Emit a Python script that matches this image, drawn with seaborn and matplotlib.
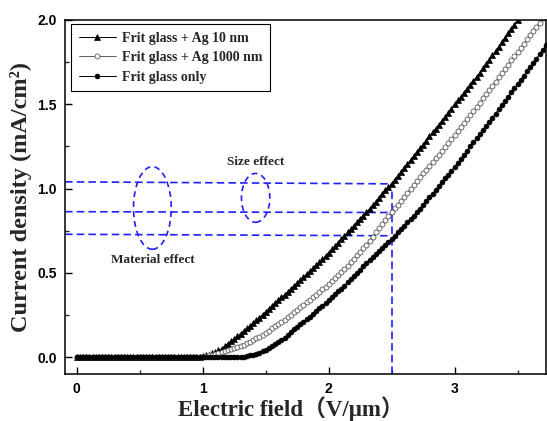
import numpy as np
import matplotlib
matplotlib.use("Agg")
import matplotlib.pyplot as plt
import matplotlib.ticker as mticker
from matplotlib.patches import Ellipse
import seaborn as sns

# ──────────────────────────────────────────────
#  Data (J-E curves, field step 0.025 V/um)
# ──────────────────────────────────────────────

FIELD_STEP = 0.025

ag10_current = [
    0, 0, 0, 0, 0, 0, 0, 0, 0, 0, 0, 0, 0,
    0, 0, 0, 0, 0, 0, 0, 0, 0, 0, 0, 0, 0,
    0, 0, 0, 0, 0, 0, 0, 0, 0, 0, 0, 0, 0,
    0.002, 0.005, 0.01, 0.015, 0.022, 0.03, 0.04, 0.05, 0.065, 0.08,
    0.095, 0.11, 0.125, 0.14, 0.155, 0.17, 0.185, 0.20, 0.218, 0.235,
    0.253, 0.27, 0.288, 0.305, 0.323, 0.34, 0.355, 0.37, 0.388, 0.405,
    0.423, 0.44, 0.458, 0.475, 0.493, 0.51, 0.528, 0.545, 0.563, 0.58,
    0.60, 0.62, 0.64, 0.66, 0.68, 0.70, 0.72, 0.74, 0.76, 0.78,
    0.80, 0.82, 0.84, 0.86, 0.88, 0.90, 0.923, 0.945, 0.968, 0.99,
    1.01, 1.03, 1.053, 1.075, 1.098, 1.12, 1.145, 1.17, 1.193, 1.215,
    1.238, 1.26, 1.285, 1.31, 1.333, 1.355, 1.378, 1.40, 1.425, 1.45,
    1.475, 1.50, 1.523, 1.545, 1.568, 1.59, 1.615, 1.64, 1.663, 1.685,
    1.713, 1.74, 1.765, 1.79, 1.815, 1.84, 1.868, 1.895, 1.92, 1.945,
    1.973, 2.00,
]

ag1000_current = [
    0, 0, 0, 0, 0, 0, 0, 0, 0, 0, 0, 0, 0,
    0, 0, 0, 0, 0, 0, 0, 0, 0, 0, 0, 0, 0,
    0, 0, 0, 0, 0, 0, 0, 0, 0, 0, 0, 0, 0,
    0.001, 0.003, 0.006, 0.01, 0.015, 0.02, 0.025, 0.03, 0.035, 0.04,
    0.046, 0.052, 0.058, 0.065, 0.073, 0.082, 0.091, 0.10, 0.111, 0.122,
    0.133, 0.145, 0.157, 0.17, 0.182, 0.195, 0.208, 0.222, 0.236, 0.25,
    0.265, 0.28, 0.295, 0.31, 0.325, 0.34, 0.355, 0.37, 0.386, 0.402,
    0.418, 0.435, 0.452, 0.47, 0.487, 0.505, 0.524, 0.543, 0.563, 0.583,
    0.604, 0.625, 0.646, 0.668, 0.691, 0.715, 0.74, 0.765, 0.788, 0.812,
    0.836, 0.86, 0.882, 0.905, 0.928, 0.952, 0.975, 0.998, 1.021, 1.045,
    1.067, 1.09, 1.112, 1.135, 1.157, 1.18, 1.202, 1.225, 1.247, 1.27,
    1.294, 1.318, 1.341, 1.365, 1.389, 1.413, 1.436, 1.46, 1.485, 1.51,
    1.535, 1.56, 1.585, 1.61, 1.635, 1.66, 1.685, 1.71, 1.735, 1.76,
    1.785, 1.81, 1.835, 1.86, 1.885, 1.91, 1.935, 1.96, 1.985, 2.01,
]

frit_current = [
    0, 0, 0, 0, 0, 0, 0, 0, 0, 0, 0, 0, 0,
    0, 0, 0, 0, 0, 0, 0, 0, 0, 0, 0, 0, 0,
    0, 0, 0, 0, 0, 0, 0, 0, 0, 0, 0, 0, 0,
    0, 0, 0, 0, 0, 0, 0, 0, 0, 0, 0, 0, 0,
    0.001, 0.003, 0.006, 0.01, 0.015, 0.02, 0.027, 0.035, 0.045, 0.055,
    0.066, 0.077, 0.088, 0.10, 0.116, 0.132, 0.148, 0.165, 0.18, 0.195,
    0.21, 0.225, 0.241, 0.257, 0.273, 0.29, 0.306, 0.322, 0.338, 0.355,
    0.372, 0.39, 0.407, 0.425, 0.444, 0.462, 0.481, 0.50, 0.519, 0.538,
    0.556, 0.575, 0.594, 0.612, 0.631, 0.65, 0.668, 0.685, 0.703, 0.72,
    0.74, 0.76, 0.78, 0.80, 0.82, 0.84, 0.86, 0.88, 0.903, 0.925,
    0.948, 0.97, 0.993, 1.015, 1.038, 1.06, 1.083, 1.105, 1.128, 1.15,
    1.175, 1.20, 1.225, 1.25, 1.274, 1.298, 1.321, 1.345, 1.37, 1.395,
    1.42, 1.445, 1.47, 1.495, 1.52, 1.545, 1.57, 1.595, 1.62, 1.645,
    1.67, 1.695, 1.72, 1.745, 1.771, 1.797, 1.823, 1.85, 1.875,
]

series_labels = ["Frit glass + Ag 10 nm", "Frit glass + Ag 1000 nm", "Frit glass only"]

# guide lines at E = 2.5 V/um
guide_field = 2.5
guide_levels_left = [1.04, 0.863, 0.729]
guide_levels_right = [1.028, 0.858, 0.72]

BLUE = "#1f1fff"
SERIF = ["Liberation Serif", "Noto Sans CJK SC"]


def field_axis(values):
    return np.arange(len(values)) * FIELD_STEP


sns.set_theme(style="ticks")
plt.rcParams.update({
    "font.family": ["Liberation Sans", "DejaVu Sans"],
    "axes.edgecolor": "black",
    "axes.linewidth": 1.1,
})

fig = plt.figure(figsize=(5.47, 4.21), dpi=100, facecolor="white")
ax = fig.add_axes([0.119, 0.112, 0.879, 0.8405])

XMIN, XMAX = -0.093, 3.725
YMIN, YMAX = -0.099, 2.0

# ── Curves ──────────────────────────────────
sns.lineplot(x=field_axis(ag10_current), y=ag10_current, ax=ax,
             estimator=None, sort=False, color="black", lw=0.7,
             marker="^", markersize=4.2, markerfacecolor="black",
             markeredgecolor="black", markeredgewidth=0.5,
             label=series_labels[0])
sns.lineplot(x=field_axis(ag1000_current), y=ag1000_current, ax=ax,
             estimator=None, sort=False, color="#444444", lw=0.6,
             marker="o", markersize=3.6, markerfacecolor="white",
             markeredgecolor="#555555", markeredgewidth=0.6,
             label=series_labels[1])
sns.lineplot(x=field_axis(frit_current), y=frit_current, ax=ax,
             estimator=None, sort=False, color="black", lw=0.7,
             marker="o", markersize=3.6, markerfacecolor="black",
             markeredgecolor="black", markeredgewidth=0.4,
             label=series_labels[2])

# ── Blue dashed guides ──────────────────────
dash = dict(color=BLUE, lw=1.2, dashes=(4.5, 2.5), zorder=1)
for yl, yr in zip(guide_levels_left, guide_levels_right):
    ax.plot([XMIN, guide_field], [yl, yr], **dash)
ax.plot([guide_field, guide_field], [YMIN, guide_levels_right[0]], **dash)

ax.add_patch(Ellipse((0.60, 0.885), 0.30, 0.49, fill=False,
                     edgecolor=BLUE, lw=1.2, linestyle=(0, (3.5, 2.5))))
ax.add_patch(Ellipse((1.42, 0.945), 0.225, 0.29, fill=False,
                     edgecolor=BLUE, lw=1.2, linestyle=(0, (3.5, 2.5))))

ax.text(1.42, 1.155, "Size effect", ha="center", va="center",
        fontsize=9.5, fontweight="bold", family=SERIF)
ax.text(0.60, 0.575, "Material effect", ha="center", va="center",
        fontsize=9.5, fontweight="bold", family=SERIF)

# ── Axes styling ────────────────────────────
ax.set_xlim(XMIN, XMAX)
ax.set_ylim(YMIN, YMAX)
ax.xaxis.set_major_locator(mticker.MultipleLocator(1))
ax.xaxis.set_minor_locator(mticker.MultipleLocator(0.5))
ax.yaxis.set_major_locator(mticker.MultipleLocator(0.5))
ax.yaxis.set_minor_locator(mticker.MultipleLocator(0.25))
ax.xaxis.set_major_formatter(mticker.FormatStrFormatter("%d"))
ax.yaxis.set_major_formatter(mticker.FormatStrFormatter("%.1f"))
ax.tick_params(which="major", direction="in", length=5, width=1.0,
               labelsize=10, pad=6, colors="black")
ax.tick_params(which="minor", direction="in", length=3, width=1.0)
for lab in ax.get_xticklabels() + ax.get_yticklabels():
    lab.set_fontweight("bold")
for side in ["top", "right", "left", "bottom"]:
    ax.spines[side].set_visible(True)

ax.set_xlabel("Electric field（V/μm）", fontsize=16.5, fontweight="bold",
              family=SERIF)
ax.xaxis.set_label_coords(0.47, -0.064)
ax.set_ylabel("Current density (mA/cm²)", fontsize=17.5, fontweight="bold",
              family=SERIF)
ax.yaxis.set_label_coords(-0.068, 0.5)

leg = ax.legend(loc="upper left", bbox_to_anchor=(0.0125, 0.989),
                borderaxespad=0, fancybox=False, framealpha=1,
                edgecolor="black", handlelength=2.7, handletextpad=0.4,
                labelspacing=0.47, borderpad=0.55,
                prop={"family": SERIF, "weight": "bold", "size": 10})
leg.get_frame().set_linewidth(0.8)

fig.savefig("out.png", dpi=100, facecolor="white")
